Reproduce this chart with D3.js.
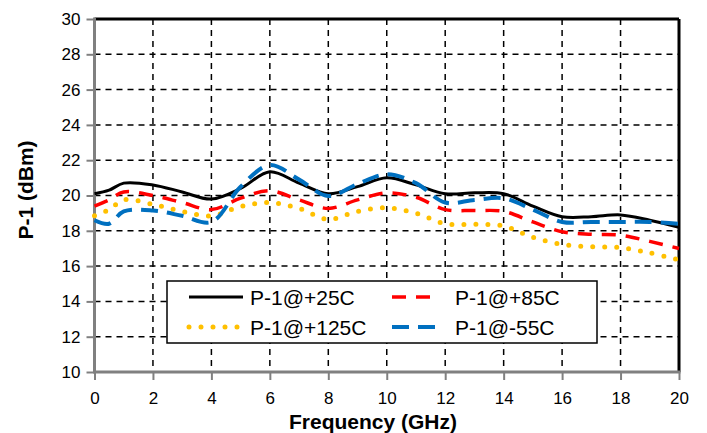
<!DOCTYPE html>
<html>
<head>
<meta charset="utf-8">
<script src="https://cdn.jsdelivr.net/npm/d3@7"></script>
<style>
  body { margin: 0; background: #fff; }
  text { font-family: "Liberation Sans", Arial, sans-serif; }
</style>
</head>
<body>
<svg id="chart" width="707" height="433"></svg>
<script>
// data
const freq = [0, 0.5, 1, 2, 3, 4, 5, 6, 7, 8, 9, 10, 11, 12, 13, 14, 15, 16, 17, 18, 19, 20]
const p25 = [20.1, 20.3, 20.7, 20.6, 20.2, 19.8, 20.4, 21.35, 20.7, 20.1, 20.5, 21.0, 20.6, 20.1, 20.15, 20.1, 19.4, 18.8, 18.8, 18.9, 18.6, 18.2]
const p85 = [19.4, 19.75, 20.2, 20.0, 19.6, 19.2, 19.85, 20.27, 19.75, 19.27, 19.75, 20.15, 19.9, 19.2, 19.15, 19.1, 18.5, 17.95, 17.8, 17.75, 17.4, 17.0]
const p125 = [18.85, 19.2, 19.75, 19.5, 19.1, 18.85, 19.37, 19.6, 19.27, 18.65, 19.1, 19.3, 19.0, 18.4, 18.37, 18.27, 17.63, 17.23, 17.1, 17.05, 16.75, 16.35]
const pm55 = [18.6, 18.4, 19.1, 19.15, 18.85, 18.5, 20.5, 21.73, 20.9, 19.97, 20.65, 21.2, 20.7, 19.6, 19.75, 19.84, 19.2, 18.5, 18.5, 18.5, 18.5, 18.4]

const xTicks = d3.range(0, 21, 2)
const yTicks = d3.range(10, 31, 2)

const series = [
  { name: 'P-1@+25C', values: p25, color: '#000000', width: 3, dash: null, cap: 'butt' },
  { name: 'P-1@+85C', values: p85, color: '#ff0000', width: 3.5, dash: '14,10', cap: 'butt' },
  { name: 'P-1@+125C', values: p125, color: '#ffc000', width: 5, dash: '0,12', cap: 'round' },
  { name: 'P-1@-55C', values: pm55, color: '#0070c0', width: 4, dash: '17,9', cap: 'butt' }
]

////////////////////////// SETUP //////////////////////////

const svg = d3.select('#chart')
const plotL = 94.5, plotR = 679, plotT = 19, plotB = 372

const xScale = d3.scaleLinear().domain([0, 20]).range([plotL, plotR])
const yScale = d3.scaleLinear().domain([10, 30]).range([plotB, plotT])

// grid
const grid = svg.append('g')
grid.selectAll('.gx')
  .data(xTicks.filter(d => d > 0 && d < 20))
  .enter().append('line')
  .attr('x1', d => xScale(d)).attr('x2', d => xScale(d))
  .attr('y1', plotT).attr('y2', plotB)
  .attr('stroke', '#000').attr('stroke-width', 1.5).attr('stroke-dasharray', '6,5')
grid.selectAll('.gy')
  .data(yTicks.filter(d => d > 10 && d < 30))
  .enter().append('line')
  .attr('x1', plotL).attr('x2', plotR)
  .attr('y1', d => yScale(d)).attr('y2', d => yScale(d))
  .attr('stroke', '#000').attr('stroke-width', 1.5).attr('stroke-dasharray', '6,5')

// axes
const xAxis = svg.append('g')
  .attr('transform', `translate(0,${plotB})`)
  .call(d3.axisBottom(xScale).tickValues(xTicks).tickSize(8).tickPadding(12))
const yAxis = svg.append('g')
  .attr('transform', `translate(${plotL},0)`)
  .call(d3.axisLeft(yScale).tickValues(yTicks).tickSize(8).tickPadding(6))

;[xAxis, yAxis].forEach(a => {
  a.select('.domain').remove()
  a.selectAll('line').attr('stroke', '#808080').attr('stroke-width', 2)
  a.selectAll('text')
    .attr('font-size', 17)
    .attr('fill', '#000')
    .style('font-family', '"Liberation Sans", Arial, sans-serif')
})

// frame: top and right black, left and bottom gray
svg.append('line').attr('x1', plotL).attr('x2', plotR).attr('y1', plotT).attr('y2', plotT)
  .attr('stroke', '#000').attr('stroke-width', 3)
svg.append('line').attr('x1', plotR).attr('x2', plotR).attr('y1', plotT).attr('y2', plotB)
  .attr('stroke', '#000').attr('stroke-width', 3)
svg.append('line').attr('x1', plotL).attr('x2', plotL).attr('y1', plotT - 1.5).attr('y2', plotB + 1.5)
  .attr('stroke', '#808080').attr('stroke-width', 3)
svg.append('line').attr('x1', plotL).attr('x2', plotR + 1.5).attr('y1', plotB).attr('y2', plotB)
  .attr('stroke', '#808080').attr('stroke-width', 3)

// titles
svg.append('text')
  .attr('x', 373).attr('y', 429)
  .attr('text-anchor', 'middle')
  .attr('font-size', 21).attr('font-weight', 'bold')
  .text('Frequency (GHz)')
svg.append('text')
  .attr('transform', `translate(33,190) rotate(-90)`)
  .attr('text-anchor', 'middle')
  .attr('font-size', 21).attr('font-weight', 'bold')
  .text('P-1 (dBm)')

////////////////////////// LINES //////////////////////////

const line = d3.line()
  .x((d, i) => xScale(freq[i]))
  .y(d => yScale(d))
  .curve(d3.curveCatmullRom.alpha(0.5))

// draw in back-to-front order
const drawOrder = [series[2], series[1], series[0], series[3]]
drawOrder.forEach(s => {
  svg.append('path')
    .datum(s.values)
    .attr('d', line)
    .attr('fill', 'none')
    .attr('stroke', s.color)
    .attr('stroke-width', s.width)
    .attr('stroke-dasharray', s.dash)
    .attr('stroke-linecap', s.cap)
})

////////////////////////// LEGEND //////////////////////////

const legend = svg.append('g')
legend.append('rect')
  .attr('x', 167).attr('y', 281).attr('width', 430).attr('height', 62)
  .attr('fill', '#fff').attr('stroke', '#000').attr('stroke-width', 1.5)

const legendPos = [
  { x1: 189, x2: 243, tx: 250, y: 297 },
  { x1: 392, x2: 436, tx: 455, y: 297 },
  { x1: 189, x2: 243, tx: 250, y: 327 },
  { x1: 392, x2: 436, tx: 455, y: 327 }
]
series.forEach((s, i) => {
  const p = legendPos[i]
  legend.append('line')
    .attr('x1', p.x1).attr('x2', p.x2).attr('y1', p.y).attr('y2', p.y)
    .attr('stroke', s.color)
    .attr('stroke-width', s.width)
    .attr('stroke-dasharray', s.dash)
    .attr('stroke-linecap', s.cap)
  legend.append('text')
    .attr('x', p.tx).attr('y', p.y + 7.5)
    .attr('font-size', 21)
    .text(s.name)
})
</script>
</body>
</html>
